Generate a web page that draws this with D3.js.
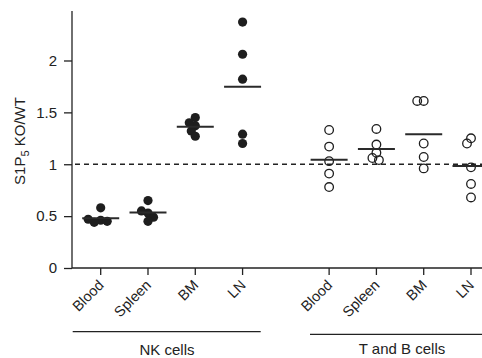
<!DOCTYPE html>
<html>
<head>
<meta charset="utf-8">
<script src="https://cdn.jsdelivr.net/npm/d3@7"></script>
<style>
  body { margin: 0; background: #fff; }
  text { font-family: "Liberation Sans", Arial, sans-serif; fill: #222; }
</style>
</head>
<body>
<div id="chart"></div>
<script>
const width = 482
const height = 358

// tissues and cell groups
const tissues = ["Blood", "Spleen", "BM", "LN"]
const groups = ["NK cells", "T and B cells"]

// S1P5 KO / WT ratios, one list per tissue
const nkValues = [
    [0.58, 0.46, 0.44, 0.45, 0.47],
    [0.65, 0.53, 0.55, 0.49, 0.45],
    [1.45, 1.37, 1.40, 1.32, 1.27],
    [2.37, 2.06, 1.82, 1.29, 1.20]
]
const tbValues = [
    [1.33, 1.17, 1.03, 0.91, 0.78],
    [1.34, 1.19, 1.11, 1.06, 1.04],
    [1.61, 1.61, 1.20, 1.07, 0.96],
    [1.25, 1.20, 0.97, 0.81, 0.68]
]
const yTicks = [0, 0.5, 1, 1.5, 2]
const refLine = 1

const groupGap = 4.83   // distance (in category units) between first tissue of each group
const dotR = 4.6
const minDist = 6.5
const halfBar = 18.5

const svg = d3.select("#chart").append("svg")
    .attr("width", width)
    .attr("height", height)

// x: category index plus group offset
let x = d3.scaleLinear().domain([0, groupGap + 3]).range([100.7, 471])
let y = d3.scaleLinear().domain([0, 2.477]).range([268, 11])

const axisX = 72

// y axis
const yAxis = svg.append("g")
    .attr("transform", "translate(" + axisX + ",0)")
    .call(d3.axisLeft(y).tickValues(yTicks).tickSize(8).tickPadding(7)
        .tickFormat(d => d))
yAxis.select(".domain").attr("d", "M0," + y.range()[1] + "V" + y(0)).attr("stroke", "#222").attr("stroke-width", 1.3)
yAxis.selectAll(".tick line").attr("stroke", "#222").attr("stroke-width", 1.3)
yAxis.selectAll(".tick text").style("font-size", "15px").attr("fill", "#222")

// x axis
const allCats = []
groups.forEach((g, gi) => tissues.forEach((t, ti) => allCats.push({group: gi, tissue: t, pos: gi * groupGap + ti})))

const xAxis = svg.append("g").attr("transform", "translate(0," + y(0) + ")")
xAxis.append("line")
    .attr("x1", axisX).attr("x2", width)
    .attr("stroke", "#222").attr("stroke-width", 1.3)
xAxis.selectAll(".xtick")
    .data(allCats)
    .enter().append("line")
    .attr("x1", d => x(d.pos)).attr("x2", d => x(d.pos))
    .attr("y1", 0).attr("y2", 7)
    .attr("stroke", "#222").attr("stroke-width", 1.3)
xAxis.selectAll(".xlabel")
    .data(allCats)
    .enter().append("text")
    .attr("text-anchor", "end")
    .attr("transform", d => "translate(" + (x(d.pos) + 4) + ",18) rotate(-45)")
    .style("font-size", "14.5px")
    .text(d => d.tissue)

// group brackets
const groupLines = [
    {x1: 72.7, x2: 260.7, y: 331.7},
    {x1: 310, x2: 482, y: 334.3}
]
groups.forEach((g, gi) => {
    const l = groupLines[gi]
    svg.append("line")
        .attr("x1", l.x1).attr("x2", l.x2)
        .attr("y1", l.y).attr("y2", l.y)
        .attr("stroke", "#222").attr("stroke-width", 1.2)
    svg.append("text")
        .attr("x", gi === 0 ? 167 : 402)
        .attr("y", gi === 0 ? l.y + 23 : l.y + 20)
        .attr("text-anchor", "middle")
        .style("font-size", "15px")
        .text(g)
})

// y label with subscript
const yLabel = svg.append("text")
    .attr("transform", "translate(25,141) rotate(-90)")
    .attr("text-anchor", "middle")
    .attr("fill", "#222")
    .style("font-size", "15px")
yLabel.append("tspan").text("S1P")
yLabel.append("tspan").attr("dy", 4).style("font-size", "11px").text("5")
yLabel.append("tspan").attr("dy", -4).text(" KO/WT")

// dashed reference line
svg.append("line")
    .attr("x1", axisX + 3).attr("x2", width)
    .attr("y1", y(refLine)).attr("y2", y(refLine))
    .attr("stroke", "#222").attr("stroke-width", 1.3)
    .attr("stroke-dasharray", "5,4")

// simple beeswarm placement so that dots sharing a level spread sideways
function swarm(values, cx) {
    let placed = []
    values.forEach(v => {
        const cy = y(v)
        let dx = 0
        for (let k = 0; k < 200; k++) {
            const cand = (k % 2 === 0 ? 1 : -1) * Math.ceil(k / 2) * 0.5
            const ok = placed.every(p => (cand - p.dx) ** 2 + (cy - p.cy) ** 2 >= minDist * minDist)
            if (ok) { dx = cand; break }
        }
        placed.push({dx: dx, cy: cy, v: v})
    })
    return placed.map(p => ({cx: cx + p.dx, cy: p.cy}))
}

const sets = [nkValues, tbValues]
sets.forEach((set, gi) => {
    set.forEach((vals, ti) => {
        const cx = x(gi * groupGap + ti)
        const pts = swarm(vals, cx)
        const m = d3.mean(vals)

        svg.append("g").selectAll("circle")
            .data(pts)
            .enter().append("circle")
            .attr("cx", d => d.cx)
            .attr("cy", d => d.cy)
            .attr("r", gi === 0 ? dotR : dotR - 0.3)
            .attr("fill", gi === 0 ? "#1e1e1e" : "none")
            .attr("stroke", "#1e1e1e")
            .attr("stroke-width", gi === 0 ? 0 : 1.3)

        // mean bar
        svg.append("line")
            .attr("x1", cx - halfBar).attr("x2", cx + halfBar)
            .attr("y1", y(m)).attr("y2", y(m))
            .attr("stroke", "#2a2a2a").attr("stroke-width", 2)
    })
})
</script>
</body>
</html>
